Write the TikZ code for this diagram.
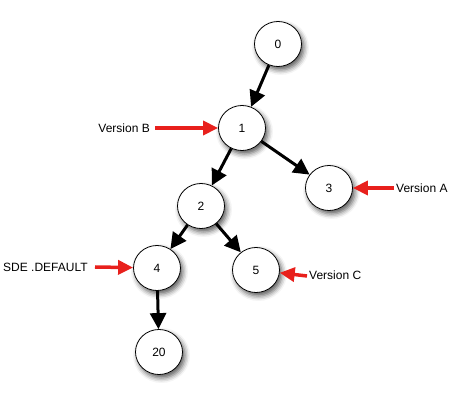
\documentclass[tikz,border=0pt]{standalone}
\usepackage{fontspec}
\setmainfont{Liberation Sans}
\usetikzlibrary{arrows.meta,shapes.geometric,shadows.blur}
\definecolor{vred}{HTML}{E8201C}
\begin{document}
\begin{tikzpicture}[x=1pt,y=-1pt,
  vnode/.style={ellipse,draw=black,line width=0.8pt,fill=white,minimum width=47pt,minimum height=45pt,inner sep=0pt,font=\fontsize{12}{14}\selectfont,
    blur shadow={shadow xshift=2.5pt,shadow yshift=-3.5pt,shadow blur radius=5pt,shadow opacity=65}},
  edge/.style={line width=3pt,-{Triangle[length=16pt,width=16pt]}},
  redarrow/.style={vred,line width=3.5pt,-{Triangle[length=15pt,width=14pt]}},
  lbl/.style={font=\fontsize{12}{14}\selectfont,inner sep=0pt}]
\useasboundingbox (0,0) rectangle (469,406);
\node[vnode] (n0) at (278,44) {0};
\node[vnode] (n1) at (242,128) {1};
\node[vnode] (n3) at (329,188) {3};
\node[vnode] (n2) at (201,206) {2};
\node[vnode] (n4) at (157,268) {4};
\node[vnode] (n5) at (256,270) {5};
\node[vnode] (n20) at (159,352) {20};
\draw[edge] (n0) -- (n1);
\draw[edge] (n1) -- (n2);
\draw[edge] (n1) -- (n3);
\draw[edge] (n2) -- (n4);
\draw[edge] (n2) -- (n5);
\draw[edge] (n4) -- (n20);
\node[lbl,anchor=east] (vb) at (150,128) {Version B};
\node[lbl,anchor=west] (va) at (396,188) {Version A};
\node[lbl,anchor=west] (sde) at (3,267) {SDE .DEFAULT};
\node[lbl,anchor=west] (vc) at (309,275) {Version C};
\coordinate (vbs) at (155,128);
\coordinate (vas) at (394,188);
\coordinate (sdes) at (95,267);
\coordinate (vcs) at (307,276);
\draw[redarrow] (vbs) -- (n1);
\draw[redarrow] (vas) -- (n3);
\draw[redarrow] (sdes) -- (n4);
\draw[redarrow] (vcs) -- (n5);
\end{tikzpicture}
\end{document}
